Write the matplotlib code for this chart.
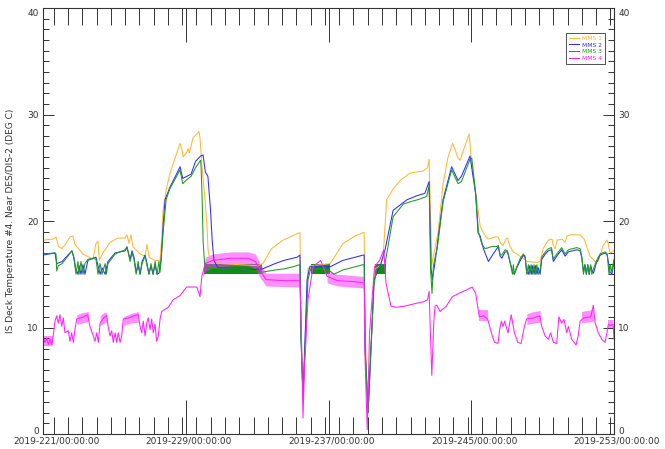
import numpy as np
import matplotlib
matplotlib.use('Agg')
import matplotlib.pyplot as plt
from matplotlib.ticker import MultipleLocator, FixedLocator
from matplotlib.transforms import ScaledTranslation

plt.rcParams['font.family'] = 'DejaVu Sans'

# Series labels, colours and axis text
labels = ['MMS 1', 'MMS 2', 'MMS 3', 'MMS 4']
colors = ['#ffb833', '#2d2dff', '#1e9a1e', '#ff22ff']
x_major = [221, 229, 237, 245, 253]
x_ticklabels = ['2019-221/00:00:00', '2019-229/00:00:00', '2019-237/00:00:00',
                '2019-245/00:00:00', '2019-253/00:00:00']
y_ticks = [0, 10, 20, 30, 40]
ylabel = 'IS Deck Temperature #4. Near DES/DIS-2 (DEG C)'

# MMS 1 (day of year, deg C)
mms1_day = [221.00, 221.56, 221.73, 221.87, 222.07, 222.29, 222.51, 222.68, 222.79, 223.24,
            223.80, 223.97, 224.08, 224.15, 224.36, 224.76, 225.20, 225.60, 225.71, 225.82,
            225.93, 226.04, 226.44, 226.72, 226.83, 226.94, 227.28, 227.56, 227.67, 227.73,
            227.90, 228.12, 228.40, 228.68, 228.79, 228.85, 229.07, 229.13, 229.20, 229.41,
            229.63, 229.74, 229.80, 229.91, 230.08, 230.19, 230.25, 230.36, 231.00, 232.00,
            233.00, 233.33, 233.80, 234.45, 235.24, 235.40, 235.46, 235.57, 235.85, 236.00,
            236.60, 237.09, 237.82, 238.50, 238.94, 239.00, 239.05, 239.20, 239.60, 239.90,
            240.06, 240.26, 240.62, 241.01, 241.57, 242.30, 242.55, 242.64, 242.79, 243.14,
            243.42, 243.70, 243.96, 244.26, 244.37, 244.88, 245.03, 245.31, 245.50, 245.78,
            245.94, 246.34, 246.50, 246.65, 246.78, 246.95, 247.03, 247.18, 247.35, 247.57,
            248.13, 248.69, 248.86, 249.03, 249.31, 249.53, 249.59, 249.70, 249.81, 250.09,
            250.26, 250.37, 250.54, 251.10, 251.33, 251.66, 251.94, 252.11, 252.39, 252.61,
            252.67, 252.78, 253.00]
mms1_temp = [18.2, 18.3, 18.5, 17.6, 17.4, 17.9, 18.5, 18.6, 17.8, 16.9,
             16.4, 17.9, 18.1, 16.3, 17.0, 18.0, 18.4, 18.4, 18.7, 17.9,
             18.7, 17.6, 16.9, 16.7, 17.8, 16.6, 16.3, 16.3, 18.8, 21.0,
             22.9, 24.5, 25.9, 27.3, 26.7, 26.0, 26.5, 26.8, 26.4, 27.8,
             28.2, 28.4, 27.8, 25.1, 22.0, 19.5, 17.3, 16.3, 16.0, 15.9,
             15.8, 16.0, 17.4, 18.2, 18.8, 18.9, 10.0, 3.2, 15.5, 15.8,
             15.9, 16.0, 17.9, 18.6, 18.9, 18.9, 10.0, 2.5, 15.5, 15.8,
             16.6, 22.0, 23.0, 23.8, 24.5, 24.7, 25.0, 25.8, 15.9, 18.9,
             23.5, 26.0, 27.3, 25.9, 25.7, 28.2, 25.2, 22.0, 19.5, 18.6,
             18.3, 18.5, 18.5, 17.9, 17.7, 18.3, 18.4, 17.6, 17.1, 16.9,
             16.2, 16.1, 16.2, 17.4, 18.2, 18.3, 17.7, 17.4, 18.2, 18.3,
             18.0, 18.6, 18.7, 18.7, 18.3, 16.7, 16.2, 16.2, 17.7, 18.2,
             17.9, 17.0, 17.2]

# MMS 2
mms2_day = [221.00, 221.67, 221.77, 222.07, 222.62, 222.73, 222.85, 222.96, 223.02, 223.13,
            223.24, 223.35, 223.52, 223.80, 223.97, 224.08, 224.20, 224.31, 224.48, 224.64,
            225.04, 225.60, 225.71, 225.88, 225.99, 226.10, 226.22, 226.33, 226.44, 226.55,
            226.72, 226.83, 226.94, 227.05, 227.17, 227.28, 227.39, 227.50, 227.62, 227.73,
            227.84, 228.12, 228.51, 228.68, 228.83, 229.07, 229.30, 229.55, 229.83, 229.97,
            230.10, 230.24, 230.39, 230.48, 230.58, 230.80, 231.50, 232.50, 233.30, 234.00,
            234.50, 235.24, 235.40, 235.46, 235.57, 235.80, 235.95, 236.50, 237.09, 237.80,
            238.50, 238.94, 239.00, 239.05, 239.22, 239.55, 239.90, 240.17, 240.62, 241.40,
            242.00, 242.40, 242.64, 242.75, 242.82, 243.00, 243.42, 243.90, 244.26, 244.45,
            244.93, 245.25, 245.38, 245.50, 245.68, 245.96, 246.15, 246.43, 246.52, 246.62,
            246.71, 246.90, 247.03, 247.18, 247.31, 247.40, 247.55, 247.75, 247.92, 248.02,
            248.11, 248.20, 248.28, 248.36, 248.44, 248.52, 248.60, 248.68, 248.76, 248.86,
            248.95, 249.15, 249.32, 249.50, 249.60, 249.79, 250.07, 250.26, 250.44, 250.91,
            251.10, 251.20, 251.29, 251.37, 251.45, 251.53, 251.61, 251.69, 251.76, 251.85,
            252.00, 252.22, 252.50, 252.62, 252.78, 252.88, 253.00]
mms2_temp = [16.8, 17.0, 16.0, 16.2, 17.2, 16.6, 15.4, 15.0, 15.8, 15.0,
             15.9, 15.0, 16.3, 16.5, 16.6, 15.8, 15.0, 15.6, 15.0, 16.2,
             17.0, 17.2, 17.5, 16.4, 17.2, 16.6, 15.2, 15.8, 15.0, 16.2,
             16.8, 16.0, 15.0, 15.8, 15.0, 15.9, 15.0, 15.1, 16.3, 19.5,
             22.0, 23.2, 24.5, 25.1, 24.0, 24.2, 24.4, 25.6, 26.1, 26.2,
             24.6, 24.2, 21.0, 18.2, 16.3, 15.6, 15.5, 15.4, 15.5, 16.0,
             16.3, 16.6, 16.8, 9.0, 3.5, 14.5, 15.7, 15.7, 15.7, 16.3,
             16.6, 16.8, 16.8, 8.0, 2.0, 14.5, 15.8, 17.3, 21.0, 22.0,
             22.4, 22.6, 23.7, 15.5, 14.5, 16.5, 22.0, 25.1, 23.8, 24.2,
             26.1, 22.5, 18.9, 18.6, 17.4, 16.2, 16.7, 17.4, 17.6, 16.7,
             16.5, 17.1, 17.1, 16.1, 15.3, 15.0, 15.6, 16.3, 16.8, 16.6,
             15.2, 15.0, 15.8, 15.0, 15.8, 15.0, 15.8, 15.0, 15.6, 15.0,
             16.4, 16.9, 17.2, 17.3, 16.2, 16.7, 17.3, 16.7, 17.1, 17.3,
             17.2, 16.5, 15.2, 15.9, 15.0, 15.9, 15.0, 15.8, 15.4, 15.1,
             16.0, 16.8, 17.0, 16.8, 15.2, 15.0, 16.2]

# MMS 3
mms3_day = [221.00, 221.67, 221.73, 221.77, 221.85, 222.07, 222.62, 222.73, 222.85, 222.96,
            223.02, 223.13, 223.24, 223.35, 223.52, 223.80, 223.97, 224.08, 224.20, 224.31,
            224.48, 224.55, 224.64, 225.04, 225.60, 225.71, 225.88, 225.99, 226.10, 226.22,
            226.33, 226.44, 226.55, 226.72, 226.83, 226.94, 227.05, 227.17, 227.28, 227.39,
            227.50, 227.56, 227.62, 227.73, 227.90, 228.10, 228.68, 228.83, 229.00, 229.30,
            229.55, 229.83, 229.86, 229.92, 229.97, 230.07, 231.00, 232.00, 233.30, 234.00,
            234.50, 235.00, 235.40, 235.46, 235.57, 235.85, 236.00, 236.60, 237.09, 237.30,
            237.80, 238.50, 238.94, 239.00, 239.05, 239.22, 239.55, 239.70, 240.17, 240.62,
            241.20, 241.57, 242.00, 242.50, 242.64, 242.72, 242.80, 242.88, 243.10, 243.42,
            243.90, 244.26, 244.45, 244.93, 245.03, 245.25, 245.40, 245.60, 245.78, 245.96,
            246.15, 246.43, 246.52, 246.62, 246.71, 246.90, 247.03, 247.18, 247.31, 247.36,
            247.42, 247.55, 247.75, 247.92, 248.02, 248.11, 248.20, 248.28, 248.36, 248.44,
            248.52, 248.60, 248.68, 248.76, 248.86, 248.95, 249.15, 249.32, 249.50, 249.60,
            249.79, 250.07, 250.26, 250.44, 250.91, 251.10, 251.20, 251.29, 251.37, 251.45,
            251.53, 251.61, 251.69, 251.76, 251.85, 252.00, 252.22, 252.50, 252.62, 252.72,
            252.80, 252.88, 253.00]
mms3_temp = [16.9, 17.0, 16.9, 15.3, 15.8, 16.0, 17.2, 16.5, 15.0, 16.2,
             15.0, 16.2, 15.0, 16.0, 16.4, 16.5, 16.4, 15.0, 16.0, 15.0,
             16.0, 15.0, 16.0, 16.9, 17.3, 17.6, 16.2, 17.0, 16.4, 15.0,
             16.2, 15.0, 16.0, 16.7, 15.8, 15.0, 16.0, 15.0, 16.2, 15.0,
             16.2, 15.2, 16.4, 18.9, 22.0, 23.0, 24.8, 23.5, 23.8, 24.2,
             25.0, 25.7, 25.1, 22.0, 18.2, 15.6, 15.5, 15.5, 15.2, 15.4,
             15.5, 15.7, 15.9, 9.0, 3.5, 14.5, 15.5, 15.5, 15.3, 15.0,
             15.4, 15.7, 15.9, 15.9, 8.0, 2.0, 14.0, 15.5, 16.0, 20.4,
             21.6, 21.8, 22.0, 22.3, 23.3, 15.5, 13.2, 15.8, 17.5, 21.8,
             24.8, 23.5, 23.7, 25.8, 25.9, 22.5, 19.0, 17.8, 17.4, 17.5,
             17.6, 17.6, 17.7, 16.8, 16.8, 17.3, 17.2, 16.1, 15.0, 15.9,
             15.0, 15.7, 16.5, 16.9, 16.7, 15.0, 15.9, 15.0, 15.9, 15.0,
             15.9, 15.0, 15.9, 15.0, 15.4, 16.6, 17.1, 17.4, 17.5, 16.4,
             16.9, 17.5, 16.9, 17.3, 17.5, 17.4, 16.6, 15.0, 15.9, 15.0,
             15.9, 15.0, 15.9, 15.0, 15.5, 16.2, 16.9, 17.1, 16.9, 15.0,
             15.9, 15.2, 16.4]

# MMS 3 fast oscillation envelopes (day, low, high)
mms3_band1_day = [230.05, 231.50, 233.30]
mms3_band1_lo = [15.0, 15.0, 15.0]
mms3_band1_hi = [16.0, 16.0, 16.0]
mms3_band2_day = [236.00, 237.10]
mms3_band2_lo = [15.0, 15.0]
mms3_band2_hi = [16.0, 16.0]
mms3_band3_day = [239.62, 240.20]
mms3_band3_lo = [15.0, 15.0]
mms3_band3_hi = [16.0, 16.0]

# MMS 4
mms4_day = [221.02, 221.11, 221.21, 221.30, 221.39, 221.49, 221.58, 221.67, 221.77, 221.86,
            221.95, 222.05, 222.14, 222.23, 222.42, 222.51, 222.61, 222.70, 222.79, 222.89,
            223.10, 223.30, 223.50, 223.63, 223.82, 223.91, 224.01, 224.10, 224.20, 224.40,
            224.57, 224.66, 224.76, 224.85, 224.94, 225.04, 225.13, 225.22, 225.32, 225.41,
            225.50, 225.80, 226.10, 226.34, 226.44, 226.53, 226.62, 226.72, 226.81, 226.90,
            227.00, 227.09, 227.18, 227.28, 227.37, 227.46, 227.56, 227.65, 227.84, 228.02,
            228.29, 228.68, 229.05, 229.62, 229.80, 229.90, 230.10, 230.50, 231.50, 232.50,
            232.90, 233.20, 233.50, 234.50, 235.40, 235.50, 235.57, 235.65, 235.85, 236.13,
            236.56, 236.92, 237.50, 238.50, 239.00, 239.05, 239.17, 239.30, 239.58, 239.86,
            240.10, 240.22, 240.50, 240.80, 241.24, 242.00, 242.30, 242.55, 242.64, 242.70,
            242.79, 242.90, 242.97, 243.07, 243.25, 243.60, 243.95, 244.30, 244.70, 245.05,
            245.25, 245.45, 245.70, 245.92, 246.03, 246.18, 246.31, 246.50, 246.59, 246.69,
            246.78, 246.87, 247.06, 247.24, 247.42, 247.61, 247.79, 247.98, 248.10, 248.50,
            248.85, 248.95, 249.14, 249.32, 249.45, 249.60, 249.79, 249.91, 250.07, 250.20,
            250.35, 250.44, 250.63, 250.87, 251.00, 251.10, 251.30, 251.70, 251.84, 251.94,
            252.12, 252.31, 252.50, 252.59, 252.68, 252.80, 252.95, 253.00]
mms4_temp = [9.0, 8.6, 9.0, 8.4, 8.9, 8.4, 9.3, 10.6, 11.1, 10.4,
             11.2, 10.1, 10.9, 9.5, 9.7, 8.7, 9.5, 8.6, 9.8, 10.8,
             10.9, 11.0, 11.2, 10.1, 9.2, 8.7, 9.5, 8.6, 10.4, 10.9,
             11.1, 10.0, 9.2, 9.7, 8.6, 9.5, 8.6, 9.5, 8.6, 9.2,
             10.8, 10.9, 11.1, 11.2, 10.1, 9.5, 10.6, 9.2, 10.4, 10.9,
             9.8, 10.8, 9.5, 10.3, 8.7, 9.2, 10.8, 11.5, 11.7, 11.9,
             12.6, 13.0, 13.8, 13.8, 12.9, 14.8, 16.0, 16.3, 16.5, 16.5,
             16.2, 15.3, 14.5, 14.4, 14.4, 8.0, 1.5, 6.0, 12.6, 15.7,
             16.3, 14.8, 14.4, 14.3, 14.2, 7.0, 0.4, 9.5, 15.7, 16.3,
             17.3, 14.2, 12.0, 11.9, 12.0, 12.3, 12.4, 12.6, 13.4, 10.0,
             5.5, 10.5, 12.0, 12.1, 11.5, 12.0, 12.9, 13.2, 13.5, 13.8,
             13.2, 11.0, 11.1, 10.8, 10.1, 9.2, 8.6, 8.5, 9.8, 10.6,
             10.1, 10.6, 9.5, 11.2, 9.5, 8.6, 8.5, 10.1, 10.8, 10.9,
             11.1, 10.1, 9.2, 8.9, 9.5, 8.6, 8.5, 11.0, 10.4, 10.75,
             9.5, 10.1, 8.9, 8.35, 9.25, 10.6, 10.9, 11.0, 12.1, 10.45,
             9.5, 8.9, 8.6, 9.4, 10.3, 10.2, 10.3, 8.9]

# MMS 4 fast oscillation envelopes
mms4_band1_day = [221.02, 221.58]
mms4_band1_lo = [8.3, 8.3]
mms4_band1_hi = [9.2, 9.2]
mms4_band2_day = [222.89, 223.20, 223.54]
mms4_band2_lo = [10.3, 10.4, 10.6]
mms4_band2_hi = [11.2, 11.4, 11.5]
mms4_band3_day = [224.20, 224.40, 224.57]
mms4_band3_lo = [10.2, 10.4, 10.5]
mms4_band3_hi = [11.1, 11.4, 11.4]
mms4_band4_day = [225.50, 225.90, 226.34]
mms4_band4_lo = [10.2, 10.4, 10.5]
mms4_band4_hi = [11.0, 11.3, 11.5]
mms4_band5_day = [229.95, 230.10, 230.50, 231.50, 232.50, 232.90, 233.20, 233.50, 235.40]
mms4_band5_lo = [14.8, 15.3, 15.6, 15.8, 15.8, 15.5, 14.6, 13.9, 13.8]
mms4_band5_hi = [15.5, 16.6, 16.9, 17.1, 17.1, 16.9, 15.9, 15.1, 15.1]
mms4_band6_day = [236.92, 237.50, 239.00]
mms4_band6_lo = [14.2, 13.9, 13.7]
mms4_band6_hi = [15.3, 15.0, 14.8]
mms4_band7_day = [245.45, 245.92]
mms4_band7_lo = [10.6, 10.6]
mms4_band7_hi = [11.6, 11.6]
mms4_band8_day = [248.11, 248.50, 248.86]
mms4_band8_lo = [10.3, 10.4, 10.5]
mms4_band8_hi = [11.3, 11.5, 11.6]
mms4_band9_day = [251.18, 251.50, 251.84]
mms4_band9_lo = [10.45, 10.5, 10.6]
mms4_band9_hi = [11.5, 11.6, 11.7]
mms4_band10_day = [252.68, 252.95]
mms4_band10_lo = [9.85, 9.85]
mms4_band10_hi = [10.75, 10.75]

fg = '#333333'

fig = plt.figure(figsize=(6.65, 4.49), dpi=100)
ax = fig.add_axes([43 / 665, 1 - 434 / 449, 571 / 665, 426 / 449])

lw = 0.75
l1, = ax.plot(mms1_day, mms1_temp, color=colors[0], lw=lw, label=labels[0])
l2, = ax.plot(mms2_day, mms2_temp, color=colors[1], lw=lw, label=labels[1])
l3, = ax.plot(mms3_day, mms3_temp, color=colors[2], lw=lw, label=labels[2])
for d, lo, hi in [(mms3_band1_day, mms3_band1_lo, mms3_band1_hi),
                  (mms3_band2_day, mms3_band2_lo, mms3_band2_hi),
                  (mms3_band3_day, mms3_band3_lo, mms3_band3_hi)]:
    ax.fill_between(d, lo, hi, color='#138c13', lw=0)
l4, = ax.plot(mms4_day, mms4_temp, color=colors[3], lw=lw, label=labels[3])
for d, lo, hi in [(mms4_band1_day, mms4_band1_lo, mms4_band1_hi),
                  (mms4_band2_day, mms4_band2_lo, mms4_band2_hi),
                  (mms4_band3_day, mms4_band3_lo, mms4_band3_hi),
                  (mms4_band4_day, mms4_band4_lo, mms4_band4_hi),
                  (mms4_band5_day, mms4_band5_lo, mms4_band5_hi),
                  (mms4_band6_day, mms4_band6_lo, mms4_band6_hi),
                  (mms4_band7_day, mms4_band7_lo, mms4_band7_hi),
                  (mms4_band8_day, mms4_band8_lo, mms4_band8_hi),
                  (mms4_band9_day, mms4_band9_lo, mms4_band9_hi),
                  (mms4_band10_day, mms4_band10_lo, mms4_band10_hi)]:
    ax.fill_between(d, lo, hi, color='#ff33ff', alpha=0.55, lw=0)

ax.set_xlim(x_major[0], x_major[-1])
ax.set_ylim(0, 40)

# x axis: major every 8 days, 10 minor intervals between majors
ax.xaxis.set_major_locator(FixedLocator(x_major))
ax.xaxis.set_minor_locator(MultipleLocator(0.8))
ax.set_xticklabels(x_ticklabels)
ax.tick_params(axis='x', which='major', direction='in', length=24.5, width=0.7,
               top=True, bottom=True, color=fg, labelsize=6.5, labelcolor=fg, pad=2)
ax.tick_params(axis='x', which='minor', direction='in', length=12.2, width=0.7,
               top=True, bottom=True, color=fg)

ax.yaxis.set_major_locator(FixedLocator(y_ticks))
ax.yaxis.set_minor_locator(MultipleLocator(1))
ax.tick_params(axis='y', which='major', direction='in', length=8, width=0.7,
               left=True, right=True, labelleft=True, labelright=True,
               color=fg, labelsize=6.5, labelcolor=fg, pad=3)
ax.tick_params(axis='y', which='minor', direction='in', length=4.3, width=0.7,
               left=True, right=True, color=fg)

for sp in ax.spines.values():
    sp.set_color(fg)
    sp.set_linewidth(0.8)

# IDL-style offsets of date labels
for i, lab in enumerate(ax.get_xticklabels()):
    shift = 14 if i == 0 else 3
    lab.set_transform(lab.get_transform() + ScaledTranslation(shift / 100, 0, fig.dpi_scale_trans))

# end labels of the y axes sit inside the axis range
yt = ax.yaxis.get_major_ticks()
for lab in (yt[0].label1, yt[0].label2):
    lab.set_transform(lab.get_transform() + ScaledTranslation(0, 3.5 / 100, fig.dpi_scale_trans))
for lab in (yt[-1].label1, yt[-1].label2):
    lab.set_transform(lab.get_transform() + ScaledTranslation(0, -4 / 100, fig.dpi_scale_trans))

fig.text(11 / 665, 1 - 221 / 449, ylabel, rotation=90, ha='center', va='center',
         fontsize=6.5, color=fg)

leg = ax.legend(handles=[l1, l2, l3, l4], loc='upper right',
                bbox_to_anchor=((605 - 43) / 571, (434 - 33) / 426),
                borderaxespad=0, fontsize=4.3, handlelength=1.6, handletextpad=0.6,
                labelspacing=0.25, borderpad=0.45, fancybox=False, framealpha=1,
                edgecolor=fg, labelcolor='linecolor')
leg.get_frame().set_linewidth(0.6)

fig.savefig('out.png', dpi=100, facecolor='white')
